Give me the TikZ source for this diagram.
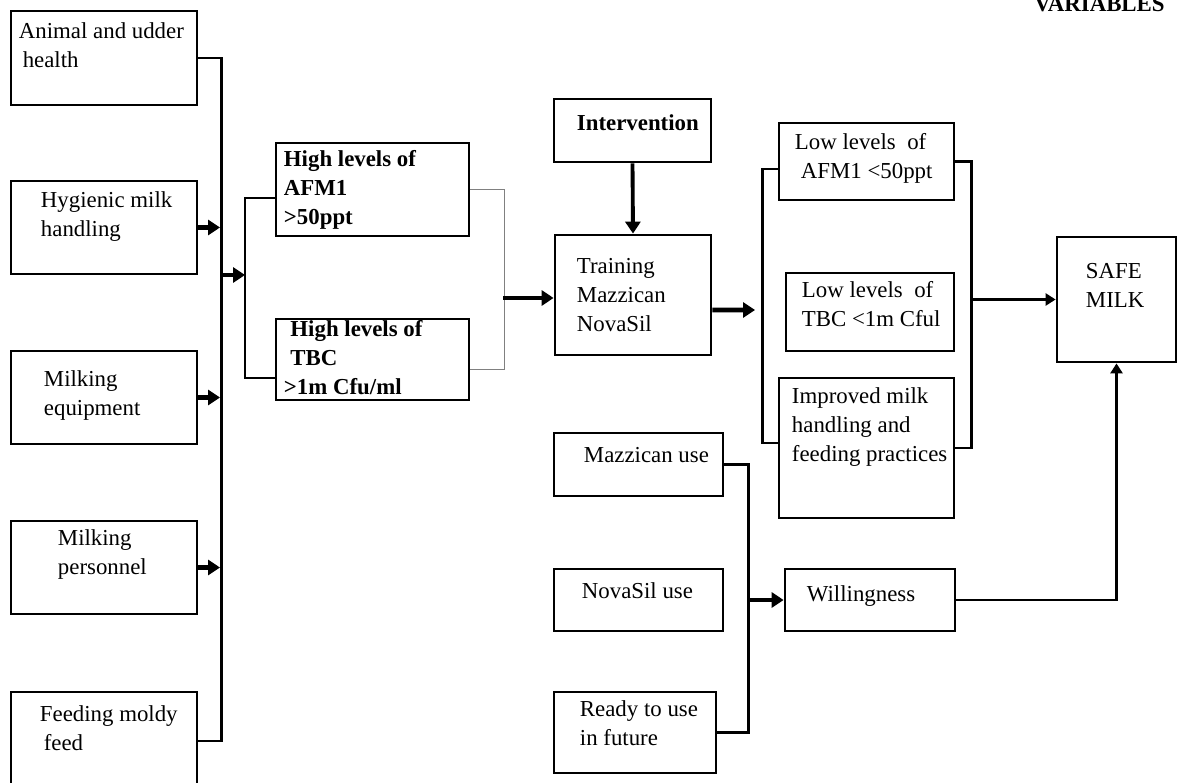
\documentclass[tikz,border=0pt]{standalone}
\usepackage{fontspec}
\setmainfont{Liberation Serif}
\usetikzlibrary{arrows.meta}

\begin{document}
\begin{tikzpicture}[x=0.02cm, y=-0.02cm,
    box/.style={draw, line width=1.6pt, inner sep=0pt},
    lbl/.style={anchor=north west, inner sep=0pt, align=left, font=\fontsize{13}{16.5}\selectfont},
    link/.style={line width=1.4pt},
    arr/.style={line width=2.6pt, -{Triangle[length=0.24cm, width=0.3cm]}},
    thinarr/.style={line width=1.4pt, -{Triangle[length=0.2cm, width=0.24cm]}}]
  \useasboundingbox (0,0) rectangle (1182,783);

  % factors
  \node[box, minimum width=3.72cm, minimum height=1.88cm, label={[lbl, shift={(9,13)}]north west:Animal and udder\\ \,health}] (health) at (104,58) {};
  \node[box, minimum width=3.72cm, minimum height=1.86cm, label={[lbl, shift={(31,12)}]north west:Hygienic milk\\handling}] (hygiene) at (104,227.5) {};
  \node[box, minimum width=3.72cm, minimum height=1.86cm, label={[lbl, shift={(34,21)}]north west:Milking\\equipment}] (equip) at (104,397.5) {};
  \node[box, minimum width=3.72cm, minimum height=1.86cm, label={[lbl, shift={(48,10)}]north west:Milking\\personnel}] (personnel) at (104,567.5) {};
  \node[box, minimum width=3.72cm, minimum height=1.96cm, label={[lbl, shift={(30,15)}]north west:Feeding moldy\\ \,feed}] (feed) at (104,741) {};

  % problem
  \node[box, minimum width=3.86cm, minimum height=1.86cm, label={[lbl, font=\fontsize{13}{16.5}\selectfont\bfseries, shift={(9,8)}]north west:High levels of\\AFM1\\>50ppt}] (afm) at (372.5,189.5) {};
  \node[box, minimum width=3.86cm, minimum height=1.62cm, label={[lbl, font=\fontsize{13}{16.5}\selectfont\bfseries, shift={(9,2)}]north west:\hspace{0.13cm}High levels of\\\hspace{0.13cm}TBC\\>1m Cfu/ml}] (tbc) at (372.5,359.5) {};

  % intervention
  \node[box, minimum width=3.14cm, minimum height=1.26cm, label={[lbl, font=\fontsize{13}{16.5}\selectfont\bfseries, shift={(24,17)}]north west:Intervention}] (intervention) at (632.5,130.5) {};
  \node[box, minimum width=3.12cm, minimum height=2.4cm, label={[lbl, shift={(23,24)}]north west:Training\\Mazzican\\NovaSil}] (training) at (633,295) {};

  % outcomes
  \node[box, minimum width=3.5cm, minimum height=1.54cm, label={[lbl, shift={(17,11)}]north west:Low levels~ of\\\hspace{0.12cm}AFM1 <50ppt}] (lowafm) at (866.5,161.5) {};
  \node[box, minimum width=3.36cm, minimum height=1.56cm, label={[lbl, shift={(17,9)}]north west:Low levels~ of\\TBC <1m Cful}] (lowtbc) at (870,312) {};
  \node[box, minimum width=3.5cm, minimum height=2.8cm, label={[lbl, shift={(14,11)}]north west:Improved milk\\handling and\\feeding practices}] (improved) at (866.5,448) {};
  \node[box, minimum width=2.38cm, minimum height=2.5cm, label={[lbl, shift={(30,27)}]north west:SAFE\\MILK}] (safe) at (1116.5,299.5) {};

  % willingness
  \node[box, minimum width=3.38cm, minimum height=1.26cm, label={[lbl, shift={(31,15)}]north west:Mazzican use}] (mazz) at (638.5,464.5) {};
  \node[box, minimum width=3.38cm, minimum height=1.24cm, label={[lbl, shift={(29,15)}]north west:NovaSil use}] (nova) at (638.5,600) {};
  \node[box, minimum width=3.24cm, minimum height=1.62cm, label={[lbl, shift={(27,10)}]north west:Ready to use\\in future}] (ready) at (635,732.5) {};
  \node[box, minimum width=3.4cm, minimum height=1.24cm, label={[lbl, shift={(23,18)}]north west:Willingness}] (will) at (870,600) {};

  \node[anchor=base east, inner sep=0pt, font=\fontsize{13}{16}\selectfont\bfseries] (vars) at (1165,12) {VARIABLES};

  % connectors
  \coordinate (bus) at (220,275);
  \coordinate (split) at (245,275);
  \coordinate (merge) at (503,298);
  \coordinate (outcome) at (970,299.5);
  \coordinate (join) at (747,600);
  \coordinate (results) at (755,310);

  \draw[link] (health.east) -- ++(23,0) |- (feed.east);
  \foreach \n in {hygiene, equip, personnel}
    \draw[arr] (\n.east) -- (\n.east -| bus);
  \draw[arr] (bus) -- (split);
  \draw[link] ([yshift=-0.17cm]afm.west) -| (split) |- ([yshift=-0.37cm]tbc.west);
  \draw[gray, line width=0.6pt] (afm.east) -- ++(34,0) |- ([yshift=-0.2cm]tbc.east);
  \draw[arr] (merge) -- (merge -| training.west);
  \draw[arr, line width=2.2pt] (intervention.south) -- (training.north);
  \draw[arr] ([yshift=-0.3cm]training.east) -- (results);
  \draw[link] ([yshift=-0.15cm]lowafm.west) -- ++(-15,0) |- ([yshift=0.1cm]improved.west);
  \draw[link] (lowafm.east) -- ++(16,0) |- (improved.east);
  \draw[thinarr] (outcome) -- (outcome -| safe.west);
  \draw[link] (mazz.east) -- ++(24,0) |- (ready.east);
  \draw[arr] (join) -- (will.west);
  \draw[thinarr] (will.east) -| (safe.south);
\end{tikzpicture}
\end{document}
